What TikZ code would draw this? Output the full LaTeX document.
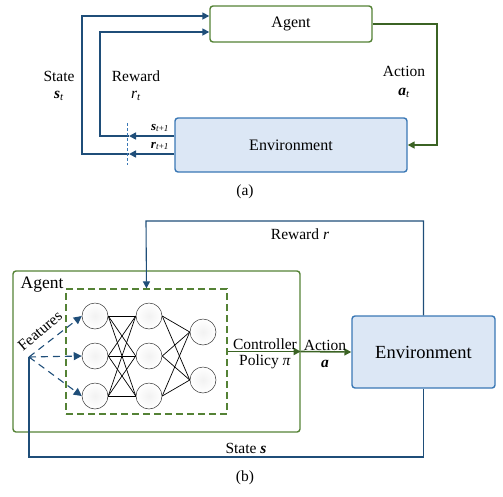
\documentclass[tikz,border=0pt]{standalone}
\usepackage{fontspec}
\setmainfont{Liberation Serif}
\usetikzlibrary{arrows.meta,calc}
\definecolor{dblue}{HTML}{1F4E79}
\definecolor{lgreen}{HTML}{548235}
\definecolor{dgreen}{HTML}{3B6324}
\definecolor{envfill}{HTML}{DCE7F5}
\definecolor{envdraw}{HTML}{3A78B5}
\begin{document}
\begin{tikzpicture}[x=1pt,y=-1pt,
  lbl/.style={font=\fontsize{15.5}{17}\selectfont, inner sep=0pt},
  smlbl/.style={font=\fontsize{13}{15}\selectfont, inner sep=0pt},
  agentbox/.style={draw=lgreen, line width=1.4pt, rounded corners=3pt, fill=white, font=\fontsize{16}{18}\selectfont},
  envbox/.style={draw=envdraw, line width=1.4pt, rounded corners=3pt, fill=envfill},
  bline/.style={draw=dblue, line width=1.6pt},
  bthin/.style={draw=dblue, line width=1.1pt},
  gline/.style={draw=dgreen, line width=1.6pt},
  tip/.style={-{Triangle[length=7pt,width=7pt]}},
  neuron/.style={circle, draw=black!80, line width=0.5pt, inner color=black!5, outer color=white, minimum size=26pt, inner sep=0pt},
  wire/.style={draw=black, line width=0.7pt}
]
\useasboundingbox (0,0) rectangle (503,496);

% ---------- (a) ----------
\node[agentbox, minimum width=162pt, minimum height=36pt] (agA) at (291,24) {Agent};
\node[envbox, minimum width=232pt, minimum height=54pt, font=\fontsize{16}{18}\selectfont] (envA) at (291,145) {Environment};

\coordinate (sa0) at (envA.west |- 0,154);
\coordinate (sa1) at (129,154);
\coordinate (sa2) at (82,154);
\coordinate (sa3) at (82,16);
\coordinate (sa4) at (agA.west |- 0,16);
\draw[bline,tip] (sa0) -- (sa1);
\draw[bline,tip] (sa1) -- (sa2) -- (sa3) -- (sa4);

\coordinate (ra0) at (envA.west |- 0,136);
\coordinate (ra1) at (129,136);
\coordinate (ra2) at (100,136);
\coordinate (ra3) at (100,32);
\coordinate (ra4) at (agA.west |- 0,32);
\draw[bline,tip] (ra0) -- (ra1);
\draw[bline,tip] (ra1) -- (ra2) -- (ra3) -- (ra4);

\coordinate (da0) at (127,123);
\coordinate (da1) at (127,165);
\draw[draw=envdraw, line width=0.7pt, dashed, dash pattern=on 3pt off 2pt] (da0) -- (da1);

\node[smlbl] (sl) at (160,128) {\textbf{\textit{s}}\textsubscript{\textit{t}+\textit{1}}};
\node[smlbl] (rl) at (160,146) {\textbf{\textit{r}}\textsubscript{\textit{t}+\textit{1}}};

\coordinate (aa1) at (437,24);
\coordinate (aa2) at (437,145);
\draw[gline,tip] (agA.east) -- (aa1) -- (aa2) -- (envA.east);

\node[lbl] (stA) at (59,76) {State};
\node[lbl] (stAv) at (59,96) {\textbf{\textit{s}}\textsubscript{\textit{t}}};
\node[lbl] (rwA) at (136,76) {Reward};
\node[lbl] (rwAv) at (136,96) {\textit{r}\textsubscript{\textit{t}}};
\node[lbl] (acA) at (404,71) {Action};
\node[lbl] (acAv) at (404,93) {\textbf{\textit{a}}\textsubscript{\textit{t}}};
\node[lbl] (capA) at (245,192) {(a)};

% ---------- (b) ----------
\node[draw=lgreen, line width=1.4pt, rounded corners=3pt, minimum width=287pt, minimum height=161pt] (agB) at (156.5,351.5) {};
\node[lbl, font=\fontsize{17.5}{19}\selectfont] (agBl) at (42,285) {Agent};
\node[draw=lgreen, line width=1.2pt, dash pattern=on 7pt off 4pt, minimum width=161pt, minimum height=125pt] (dbox) at (146.5,351.5) {};

\node[neuron] (n11) at (95,316) {};
\node[neuron] (n12) at (95,356) {};
\node[neuron] (n13) at (95,396) {};
\node[neuron] (n21) at (149,316) {};
\node[neuron] (n22) at (149,356) {};
\node[neuron] (n23) at (149,396) {};
\node[neuron] (n31) at (203,332) {};
\node[neuron] (n32) at (203,380) {};
\foreach \i in {1,2,3}{\foreach \j in {1,2,3}{\draw[wire] (n1\i.east) -- (n2\j.west);}}
\foreach \i in {1,2,3}{\foreach \j in {1,2}{\draw[wire] (n2\i.east) -- (n3\j.west);}}

\node[envbox, minimum width=143pt, minimum height=72pt, font=\fontsize{18.5}{20}\selectfont] (envB) at (423.5,352) {Environment};

% reward (b)
\coordinate (rb1) at (envB.north |- 0,221);
\coordinate (rb2) at (146,221);
\draw[bthin,tip] (envB.north) -- (rb1) -- (rb2) -- (dbox.north);
\node[lbl] (rwB) at (300,234) {Reward \textit{r}};

% state (b)
\coordinate (sb1) at (envB.south |- 0,457);
\coordinate (sb2) at (29,457);
\coordinate (fan) at (29,357);
\draw[bthin] (envB.south) -- (sb1) -- (sb2) -- (fan);
\node[lbl] (stB) at (246,448) {State \textbf{\textit{s}}};

% features
\foreach \n in {n11,n12,n13}{\draw[bthin, dash pattern=on 7pt off 5pt, -{Triangle[length=8pt,width=8pt]}] (fan) -- (\n.west);}
\node[lbl, rotate=40] (feat) at (40,331) {Features};

% action (b)
\coordinate (ab1) at (agB.east |- dbox.east);
\draw[gline,tip] (dbox.east) -- (ab1);
\draw[gline,tip] (ab1) -- (envB.west);
\node[lbl] (ctl) at (265,344) {Controller};
\node[lbl] (pol) at (265,362) {Policy \textit{π}};
\node[lbl] (acB) at (325,345) {Action};
\node[lbl] (acBv) at (325,364) {\textbf{\textit{a}}};
\node[lbl] (capB) at (245,478) {(b)};
\end{tikzpicture}
\end{document}
